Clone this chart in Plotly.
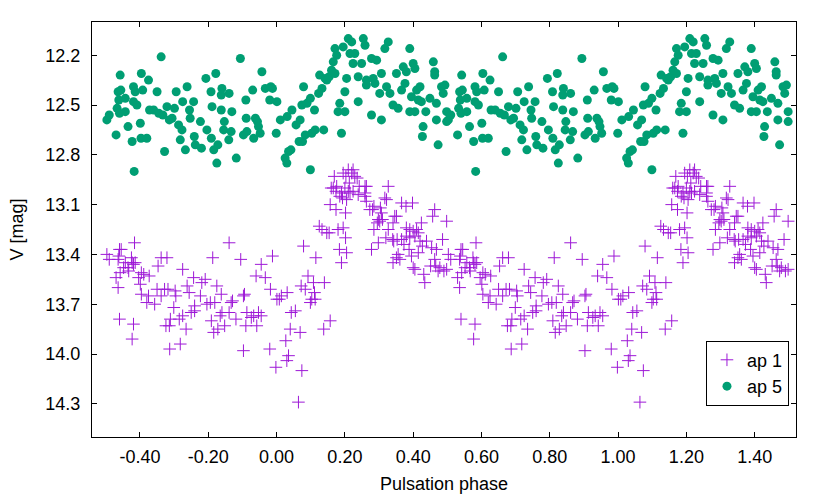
import plotly.graph_objects as go

# ---- data: one pulsation cycle (phase in [-0.5, 0.5)), plotted twice (phase and phase+1)
ap1_phase = [
    -0.497, -0.490, -0.464, -0.460, -0.455, -0.462, -0.443, -0.448, -0.435, -0.425,
    -0.419, -0.416, -0.423, -0.414, -0.433, -0.458, -0.470, -0.464, -0.460, -0.419,
    -0.423, -0.396, -0.404, -0.399, -0.389, -0.373, -0.396, -0.375, -0.380, -0.357,
    -0.338, -0.350, -0.347, -0.338, -0.321, -0.328, -0.318, -0.301, -0.297, -0.295,
    -0.324, -0.314, -0.311, -0.313, -0.282, -0.285, -0.275, -0.275, -0.265, -0.262,
    -0.256, -0.250, -0.240, -0.243, -0.240, -0.223, -0.219, -0.209, -0.204, -0.194,
    -0.187, -0.191, -0.184, -0.181, -0.175, -0.172, -0.162, -0.160, -0.165, -0.152,
    -0.139, -0.139, -0.133, -0.129, -0.119, -0.105, -0.097, -0.094, -0.097, -0.087,
    -0.090, -0.074, -0.067, -0.058, -0.060, -0.053, -0.045, -0.033, -0.045, -0.018,
    -0.012, -0.020, -0.002, 0.001, 0.008, 0.014, 0.027, 0.035, 0.030, 0.040,
    0.031, 0.043, 0.055, 0.069, 0.072, 0.079, 0.084, 0.074, 0.064, 0.092,
    0.099, 0.103, 0.108, 0.111, 0.115, 0.113, 0.125, 0.133, 0.147, 0.154,
    0.138, 0.140, 0.157, 0.157, 0.160,
    0.169, 0.166, 0.176, 0.174, 0.185, 0.190, 0.193, 0.195, 0.203, 0.210,
    0.220, 0.224, 0.229, 0.236, 0.213, 0.210, 0.215, 0.205, 0.200, 0.224,
    0.239, 0.242, 0.259, 0.263, 0.259, 0.263, 0.259, 0.273, 0.281, 0.285,
    0.327, 0.317, 0.322, 0.304, 0.307, 0.302, 0.298, 0.310, 0.295, 0.285,
    0.327, 0.341, 0.346, 0.351, 0.366, 0.379, 0.398, 0.353, 0.366, 0.373,
    0.380, 0.390, 0.400, 0.410, 0.405, 0.415, 0.380, 0.390, 0.343, 0.340,
    0.320, 0.298, 0.278, 0.356, 0.351, 0.341, 0.361, 0.388, 0.395, 0.415,
    0.400, 0.405, 0.420, 0.427, 0.439, 0.424, 0.463, 0.457, 0.454, 0.468,
    0.463, 0.451, 0.466, 0.473, 0.478, 0.490, 0.486, 0.498, 0.431, 0.434,
    0.498, 0.184, 0.205, 0.190, 0.180, 0.195, 0.202, 0.174, 0.202,
]
ap1_mag = [
    13.40, 13.43, 13.43, 13.37, 13.37, 13.41, 13.45, 13.48, 13.48, 13.42,
    13.46, 13.33, 13.45, 13.45, 13.50, 13.51, 13.54, 13.60, 13.79, 13.82,
    13.91, 13.51, 13.54, 13.58, 13.52, 13.53, 13.64, 13.65, 13.69, 13.70,
    13.65, 13.61, 13.47, 13.42, 13.42, 13.61, 13.61, 13.72, 13.62, 13.65,
    13.83, 13.83, 13.79, 13.97, 13.94, 13.79, 13.49, 13.77, 13.85, 13.59,
    13.63, 13.75, 13.74, 13.54, 13.71, 13.65, 13.57, 13.55, 13.70, 13.69,
    13.42, 13.80, 13.87, 13.69, 13.59, 13.85, 13.64, 13.75, 13.77, 13.83,
    13.33, 13.75, 13.69, 13.68, 13.79, 13.43, 13.98, 13.64, 13.65, 13.75,
    13.83, 13.78, 13.77, 13.83, 13.53, 13.75, 13.77, 13.54, 13.46, 13.61,
    13.41, 13.97, 14.08, 13.67, 13.67, 13.65, 13.92, 14.01, 14.04, 13.85,
    13.63, 13.75, 13.74, 13.87, 13.59, 13.35, 13.61, 14.10, 14.29, 13.53,
    13.69, 13.67, 13.57, 13.63, 13.42, 13.67, 13.23, 13.25, 13.27, 13.27,
    13.85, 13.57, 13.80, 13.10, 13.00,
    12.93, 13.00, 12.99, 13.02, 13.05, 13.03, 13.06, 12.91, 12.93, 12.89,
    12.91, 12.89, 12.93, 12.94, 12.97, 13.02, 13.03, 13.07, 13.00, 13.02,
    13.04, 12.99, 12.99, 12.99, 13.03, 13.08, 13.05, 13.13, 13.13, 13.11,
    12.99, 13.06, 13.07, 13.12, 13.15, 13.20, 13.19, 13.19, 13.21, 13.25,
    13.25, 13.21, 13.17, 13.17, 13.09, 13.11, 13.09, 13.31, 13.31, 13.34,
    13.24, 13.25, 13.26, 13.25, 13.29, 13.27, 13.29, 13.30, 13.32, 13.31,
    13.30, 13.33, 13.37, 13.40, 13.42, 13.45, 13.43, 13.37, 13.41, 13.39,
    13.48, 13.49, 13.32, 13.35, 13.32, 13.21, 13.13, 13.17, 13.36, 13.37,
    13.43, 13.47, 13.47, 13.50, 13.48, 13.50, 13.31, 13.20, 13.52, 13.57,
    13.49, 13.37, 13.39, 13.45, 13.25, 13.24, 13.30, 13.13, 13.15,
]

ap5_phase = [
    -0.497, -0.490, -0.470, -0.464, -0.456, -0.458, -0.462, -0.467, -0.460, -0.443,
    -0.443, -0.435, -0.423, -0.417, -0.419, -0.414, -0.419, -0.409, -0.399, -0.396,
    -0.392, -0.397, -0.380, -0.375, -0.372, -0.360, -0.350, -0.345, -0.338, -0.333,
    -0.328, -0.321, -0.314, -0.306, -0.299, -0.294, -0.287, -0.277, -0.275, -0.282,
    -0.262, -0.267, -0.255, -0.253, -0.243, -0.241, -0.238, -0.223, -0.220, -0.207,
    -0.204, -0.192, -0.189, -0.191, -0.184, -0.178, -0.172, -0.175, -0.162, -0.160,
    -0.162, -0.153, -0.155, -0.139, -0.140, -0.133, -0.131, -0.118, -0.106, -0.097,
    -0.090, -0.089, -0.087, -0.070, -0.067, -0.062, -0.056, -0.053, -0.048, -0.043,
    -0.033, -0.020, -0.017, -0.012, -0.001, 0.001, 0.011, 0.025, 0.030, 0.035,
    0.042, 0.031, 0.045, 0.057, 0.069, 0.066, 0.076, 0.074, 0.079, 0.084,
    0.089, 0.099, 0.099, 0.103, 0.111, 0.113, 0.123, 0.126, 0.133, 0.138,
    0.142, 0.147, 0.154,
    0.171, 0.176, 0.166, 0.171, 0.161, 0.185, 0.190, 0.180, 0.200, 0.200,
    0.205, 0.195, 0.210, 0.220, 0.215, 0.229, 0.224, 0.239, 0.239, 0.249,
    0.254, 0.259, 0.263, 0.263, 0.278, 0.293, 0.283, 0.278, 0.288, 0.302,
    0.307, 0.307, 0.317, 0.327, 0.322, 0.332, 0.341, 0.351, 0.356, 0.366,
    0.371, 0.376, 0.380, 0.390, 0.395, 0.400, 0.405, 0.390, 0.405, 0.410,
    0.415, 0.420, 0.424, 0.429, 0.427, 0.437, 0.449, 0.459, 0.463, 0.463,
    0.468, 0.468, 0.473, 0.483, 0.488, 0.493, 0.498, 0.498,
]
ap5_mag = [
    12.59, 12.56, 12.68, 12.42, 12.41, 12.32, 12.47, 12.52, 12.55, 12.54,
    12.46, 12.63, 12.72, 12.90, 12.39, 12.42, 12.48, 12.50, 12.61, 12.31,
    12.41, 12.70, 12.70, 12.35, 12.53, 12.53, 12.42, 12.55, 12.21, 12.56,
    12.78, 12.51, 12.59, 12.58, 12.52, 12.42, 12.62, 12.65, 12.48, 12.71,
    12.39, 12.77, 12.53, 12.58, 12.48, 12.69, 12.74, 12.60, 12.76, 12.34,
    12.65, 12.42, 12.51, 12.70, 12.77, 12.31, 12.74, 12.85, 12.53, 12.40,
    12.44, 12.60, 12.65, 12.43, 12.71, 12.66, 12.54, 12.82, 12.22, 12.68,
    12.47, 12.58, 12.66, 12.41, 12.70, 12.58, 12.60, 12.63, 12.67, 12.30,
    12.40, 12.47, 12.39, 12.40, 12.67, 12.48, 12.59, 12.82, 12.85, 12.78,
    12.77, 12.57, 12.53, 12.62, 12.59, 12.72, 12.72, 12.50, 12.39, 12.68,
    12.49, 12.46, 12.89, 12.67, 12.53, 12.65, 12.43, 12.32, 12.40, 12.65,
    12.34, 12.35, 12.33,
    12.16, 12.20, 12.24, 12.31, 12.29, 12.49, 12.67, 12.54, 12.54, 12.42,
    12.34, 12.15, 12.10, 12.12, 12.19, 12.19, 12.25, 12.33, 12.48, 12.25,
    12.10, 12.14, 12.35, 12.38, 12.22, 12.23, 12.34, 12.56, 12.37, 12.43,
    12.31, 12.59, 12.16, 12.12, 12.39, 12.43, 12.50, 12.31, 12.52, 12.41,
    12.27, 12.37, 12.30, 12.16, 12.45, 12.25, 12.28, 12.54, 12.54, 12.41,
    12.47, 12.39, 12.48, 12.63, 12.69, 12.54, 12.46, 12.24, 12.30, 12.32,
    12.49, 12.59, 12.74, 12.39, 12.43, 12.38, 12.60, 12.54,
]

x_tick_values = [-0.4, -0.2, 0.0, 0.2, 0.4, 0.6, 0.8, 1.0, 1.2, 1.4]
x_tick_labels = ["-0.40", "-0.20", "0.00", "0.20", "0.40", "0.60", "0.80", "1.00", "1.20", "1.40"]
y_tick_values = [12.2, 12.5, 12.8, 13.1, 13.4, 13.7, 14.0, 14.3]
y_tick_labels = ["12.2", "12.5", "12.8", "13.1", "13.4", "13.7", "14.0", "14.3"]


def two_cycles(phase, mag):
    xs = list(phase) + [p + 1.0 for p in phase]
    ys = list(mag) + list(mag)
    return xs, ys


FONT = "Liberation Sans, Arial, Helvetica, sans-serif"
FS = 18

x1, y1 = two_cycles(ap1_phase, ap1_mag)
x5, y5 = two_cycles(ap5_phase, ap5_mag)

fig = go.Figure()
fig.add_trace(go.Scatter(
    x=x1, y=y1, mode="markers", name="ap 1",
    marker=dict(symbol="cross-thin", size=9, color="#9400D3",
                line=dict(width=1, color="#9400D3")),
    opacity=0.9,
))
fig.add_trace(go.Scatter(
    x=x5, y=y5, mode="markers", name="ap 5",
    marker=dict(symbol="circle", size=9, color="#009E73", line=dict(width=0)),
))

axis_common = dict(
    showline=True, linecolor="#000000", linewidth=1, mirror="ticks",
    ticks="inside", ticklen=5, tickwidth=1, tickcolor="#000000",
    showgrid=False, zeroline=False, automargin=False,
    tickfont=dict(family=FONT, size=FS, color="#000000"),
)

fig.update_layout(
    width=830, height=498,
    margin=dict(l=92, r=34, t=22, b=61),
    paper_bgcolor="white", plot_bgcolor="white",
    font=dict(family=FONT, size=FS, color="#000000"),
    xaxis=dict(
        range=[-0.5405, 1.521],
        tickvals=x_tick_values, ticktext=x_tick_labels,
        ticklabelstandoff=3,
        title=dict(text="Pulsation phase", standoff=11,
                   font=dict(family=FONT, size=FS)),
        **axis_common,
    ),
    yaxis=dict(
        range=[14.5, 12.0],
        tickvals=y_tick_values, ticktext=y_tick_labels,
        ticklabelstandoff=7,
        title=dict(text="V [mag]", standoff=17,
                   font=dict(family=FONT, size=FS)),
        **axis_common,
    ),
    legend=dict(
        x=0.99, y=0.154, xanchor="right", yanchor="middle",
        bgcolor="white", bordercolor="#000000", borderwidth=1,
        font=dict(family=FONT, size=FS),
        itemwidth=30, tracegroupgap=0,
    ),
    showlegend=True,
)

fig.write_html(
    "out.html",
    config={"displayModeBar": False},
    post_script="document.body.style.margin='0';document.body.style.padding='0';",
)
